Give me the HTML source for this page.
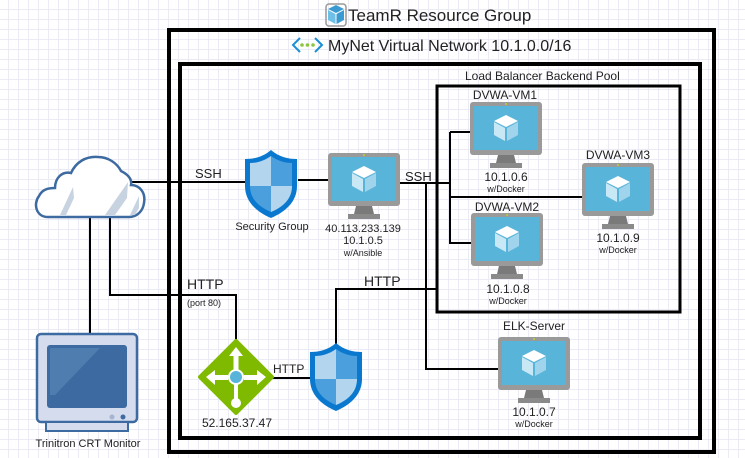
<!DOCTYPE html>
<html><head><meta charset="utf-8"><style>
html,body{margin:0;padding:0;}
body{width:745px;height:458px;overflow:hidden;background-color:#fff;
background-image:linear-gradient(#ebebf5 1px,transparent 1px),linear-gradient(90deg,#ebebf5 1px,transparent 1px);
background-size:10px 10px;background-position:-2px -1px;}
svg{position:absolute;left:0;top:0;}
text{font-family:"Liberation Sans",sans-serif;fill:#222;}
</style></head><body>
<svg width="745" height="458" viewBox="0 0 745 458">
<defs>
<g id="vm">
 <rect x="0" y="0" width="72" height="53" rx="3" fill="#9a9a9a"/>
 <rect x="4" y="4" width="64" height="44" fill="#59b4d9"/>
 <path d="M28 53 L44 53 L46 61 L26 61 Z" fill="#7a7a7a"/>
 <rect x="20" y="61" width="32" height="5" fill="#8a8a8a"/>
 <path d="M36 13 L48 19 L36 25 L24 19 Z" fill="#fff"/>
 <path d="M24 20 L35 26 L35 39 L24 33 Z" fill="#c8e8f5"/>
 <path d="M48 20 L37 26 L37 39 L48 33 Z" fill="#9fd4ec"/>
 <circle cx="36" cy="2" r="1" fill="#b8d432"/>
</g>
<g id="shield">
 <path d="M26 0 C18 7 9 9 0 9 L0 36 C0 52 12 62 26 68 C40 62 52 52 52 36 L52 9 C43 9 34 7 26 0 Z" fill="#0a78cf"/>
 <path d="M26 6 C19 11 12 13 5 13 L5 36 L26 36 Z" fill="#b3d6ee"/>
 <path d="M26 6 C33 11 40 13 47 13 L47 36 L26 36 Z" fill="#4a9fdc"/>
 <path d="M5 36 C5 49 14 57 26 62 L26 36 Z" fill="#4a9fdc"/>
 <path d="M47 36 C47 49 38 57 26 62 L26 36 Z" fill="#b3d6ee"/>
</g>
</defs>

<!-- boxes -->
<rect x="169" y="30" width="545" height="422" fill="none" stroke="#000" stroke-width="4"/>
<rect x="180" y="64" width="520" height="374" fill="none" stroke="#000" stroke-width="4"/>
<rect x="437" y="86" width="243" height="226" fill="none" stroke="#000" stroke-width="3"/>

<!-- titles -->
<g transform="translate(326,2)">
 <rect x="0" y="2" width="20" height="22" rx="3" fill="none" stroke="#999" stroke-width="1.5"/>
 <path d="M10 3 L18 7 L10 11 L2 7 Z" fill="#3a9bd2"/>
 <path d="M2 8 L9.5 12 L9.5 22 L2 18 Z" fill="#6fc0e6"/>
 <path d="M18 8 L10.5 12 L10.5 22 L18 18 Z" fill="#3a9bd2"/>
</g>
<text x="348" y="21" font-size="17">TeamR Resource Group</text>
<g transform="translate(292,37)" fill="none" stroke="#1a8fd6" stroke-width="2">
 <path d="M8 1 L1 8 L8 15"/><path d="M23 1 L30 8 L23 15"/>
</g>
<circle cx="302" cy="45" r="1.8" fill="#8cc63f"/><circle cx="307.5" cy="45" r="1.8" fill="#8cc63f"/><circle cx="313" cy="45" r="1.8" fill="#8cc63f"/>
<text x="328" y="51" font-size="16">MyNet Virtual Network 10.1.0.0/16</text>
<text x="465" y="80" font-size="12">Load Balancer Backend Pool</text>

<!-- connectors -->
<g fill="none" stroke="#000" stroke-width="2">
 <path d="M129 182 L245 182"/>
 <path d="M298 180 L328 180"/>
 <path d="M400 183 L450 183"/>
 <path d="M426 183 L426 369 L498 369"/>
 <path d="M450 132 L450 243 L471 243"/>
 <path d="M450 132 L470 132"/>
 <path d="M450 197 L582 197"/>
 <path d="M110 205 L110 295 L236 295 L236 345"/>
 <path d="M90 208 L90 333"/>
 <path d="M270 378 L310 378"/>
 <path d="M336 344 L336 289 L437 289"/>
</g>
<text x="195" y="178" font-size="13">SSH</text>
<text x="405" y="181" font-size="13">SSH</text>
<text x="187" y="289" font-size="14">HTTP</text>
<text x="187" y="306" font-size="9">(port 80)</text>
<text x="273" y="373" font-size="12">HTTP</text>
<text x="364" y="286" font-size="14">HTTP</text>

<!-- cloud -->
<path d="M48 217 C36 217 33 204 39 196 C42 190 47 188 55 188 C55 178 62 171 71 173 C76 162 86 156 98 157 C108 157 117 163 121 171 C129 175 132 180 131 185 C139 185 146 192 144 203 C143 211 137 217 129 217 Z" fill="#fff" stroke="#3d6aa0" stroke-width="2.5"/>
<path d="M60 215 L73 187 L74 198 L66 215 Z" fill="#c8d3e2"/>
<path d="M105 215 L128 182 L127 198 L115 215 Z" fill="#c8d3e2"/>
<path d="M130 215 L139 196 L139 208 L135 215 Z" fill="#c8d3e2"/>

<!-- monitor -->
<rect x="37" y="334" width="100" height="88" rx="4" fill="#d5dced" stroke="#3d6aa0" stroke-width="2.5"/>
<rect x="47" y="345" width="80" height="63" rx="3" fill="#3d6aa0"/>
<path d="M50 348 L100 348 L55 395 L50 395 Z" fill="#4f7db0"/>
<circle cx="112" cy="417" r="2.5" fill="#a7b4cd"/><circle cx="123" cy="417" r="2.5" fill="#3d6aa0"/>
<rect x="46" y="422" width="82" height="9" fill="#d5dced" stroke="#3d6aa0" stroke-width="2"/>
<text x="88" y="447" font-size="11" text-anchor="middle">Trinitron CRT Monitor</text>

<!-- security group -->
<use href="#shield" transform="translate(245,150)"/>
<text x="272" y="230" font-size="11" text-anchor="middle">Security Group</text>

<!-- jump box -->
<use href="#vm" transform="translate(328,153)"/>
<text x="363" y="232" font-size="11" text-anchor="middle">40.113.233.139</text>
<text x="363" y="244" font-size="11" text-anchor="middle">10.1.0.5</text>
<text x="363" y="256" font-size="9" text-anchor="middle">w/Ansible</text>

<!-- VMs -->
<use href="#vm" transform="translate(470,102)"/>
<text x="505" y="99" font-size="12" text-anchor="middle">DVWA-VM1</text>
<text x="506" y="181" font-size="12" text-anchor="middle">10.1.0.6</text>
<text x="506" y="192" font-size="9" text-anchor="middle">w/Docker</text>

<use href="#vm" transform="translate(471,213)"/>
<text x="507" y="211" font-size="12" text-anchor="middle">DVWA-VM2</text>
<text x="508" y="293" font-size="12" text-anchor="middle">10.1.0.8</text>
<text x="508" y="304" font-size="9" text-anchor="middle">w/Docker</text>

<use href="#vm" transform="translate(582,163)"/>
<text x="618" y="159" font-size="12" text-anchor="middle">DVWA-VM3</text>
<text x="618" y="242" font-size="12" text-anchor="middle">10.1.0.9</text>
<text x="618" y="253" font-size="9" text-anchor="middle">w/Docker</text>

<use href="#vm" transform="translate(498,337)"/>
<text x="534" y="330" font-size="12" text-anchor="middle">ELK-Server</text>
<text x="534" y="416" font-size="12" text-anchor="middle">10.1.0.7</text>
<text x="534" y="427" font-size="9" text-anchor="middle">w/Docker</text>

<!-- load balancer -->
<path d="M236 341 L272 377 L236 413 L200 377 Z" fill="#7fba00" stroke="#7fba00" stroke-width="4" stroke-linejoin="round"/>
<g fill="#fff">
 <path d="M236 347 L243 356 L238.5 356 L238.5 372 L233.5 372 L233.5 356 L229 356 Z"/>
 <path d="M206 377 L215 370 L215 375 L228 375 L228 380 L215 380 L215 385 Z"/>
 <path d="M266 377 L257 370 L257 375 L244 375 L244 380 L257 380 L257 385 Z"/>
 <rect x="234" y="383" width="4" height="17"/>
 <circle cx="236" cy="403" r="5"/>
</g>
<circle cx="236" cy="377" r="8" fill="#fff"/><circle cx="236" cy="377" r="6" fill="#59b4d9"/>
<text x="237" y="427" font-size="12" text-anchor="middle">52.165.37.47</text>

<use href="#shield" transform="translate(310,343)"/>
</svg>
</body></html>
